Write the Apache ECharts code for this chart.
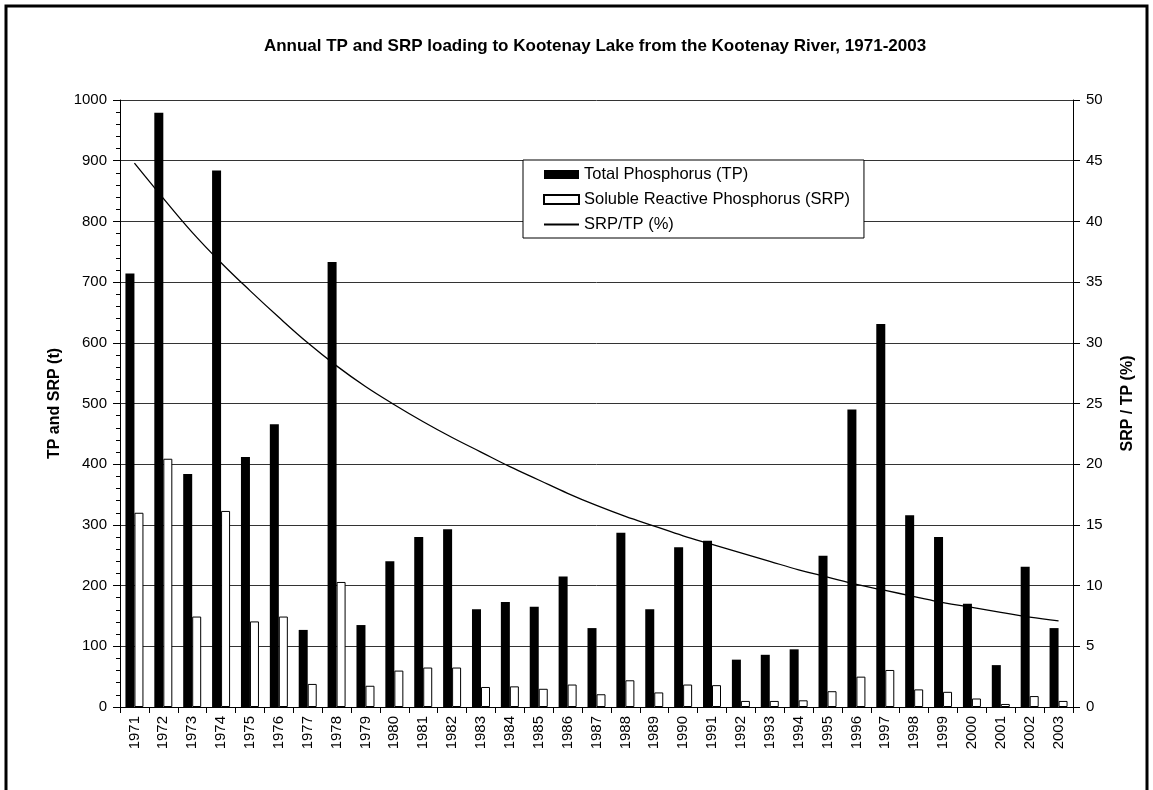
<!DOCTYPE html>
<html>
<head>
<meta charset="utf-8">
<style>
  html, body { margin: 0; padding: 0; background: #fff; }
  #chart { width: 1153px; height: 790px; }
</style>
<script src="https://cdn.jsdelivr.net/npm/echarts@6/dist/echarts.min.js"></script>
</head>
<body>
<div id="chart"></div>
<script>
// values
const years = ['1971', '1972', '1973', '1974', '1975', '1976', '1977', '1978', '1979', '1980',
  '1981', '1982', '1983', '1984', '1985', '1986', '1987', '1988', '1989', '1990',
  '1991', '1992', '1993', '1994', '1995', '1996', '1997', '1998', '1999', '2000',
  '2001', '2002', '2003']
const tpLoad = [714, 979, 384, 884, 412, 466, 127, 733, 135, 240,
  280, 293, 161, 173, 165, 215, 130, 287, 161, 263,
  274, 78, 86, 95, 249, 490, 631, 316, 280, 170,
  69, 231, 130]
const srpLoad = [320, 409, 149, 323, 141, 149, 38, 206, 35, 60,
  65, 65, 33, 34, 30, 37, 21, 44, 24, 37,
  36, 10, 10, 11, 26, 50, 61, 29, 25, 14,
  5, 18, 10]
const srpTpPct = [44.8, 41.9, 39.1, 36.6, 34.3, 32.1, 30.0, 28.1, 26.4, 24.9,
  23.5, 22.2, 21.0, 19.8, 18.7, 17.6, 16.6, 15.7, 14.9, 14.1,
  13.4, 12.7, 12.0, 11.3, 10.7, 10.1, 9.6, 9.1, 8.6, 8.2,
  7.8, 7.4, 7.1]

const FONT = '"Liberation Sans", Arial, sans-serif'
const chart = echarts.init(document.getElementById('chart'))

const option = {
  animation: false,
  backgroundColor: '#fff',
  textStyle: { fontFamily: FONT, color: '#000' },
  title: {
    text: 'Annual TP and SRP loading to Kootenay Lake from the Kootenay River, 1971-2003',
    left: 590,
    textAlign: 'center',
    top: 33,
    textStyle: { fontFamily: FONT, fontSize: 17, fontWeight: 'bold', color: '#000' },
  },
  graphic: [
    {
      type: 'rect',
      shape: { x: 6, y: 6, width: 1141, height: 820 },
      style: { fill: 'none', stroke: '#000', lineWidth: 3 },
      silent: true,
    },
  ],
  legend: {
    orient: 'vertical',
    left: 523,
    top: 160,
    padding: [6, 14, 5, 20],
    itemGap: 8,
    itemWidth: 35,
    itemHeight: 9,
    backgroundColor: '#fff',
    borderColor: '#000',
    borderWidth: 1,
    textStyle: { fontFamily: FONT, fontSize: 16.5, color: '#000' },
    data: [
      { name: 'Total Phosphorus (TP)', icon: 'rect' },
      { name: 'Soluble Reactive Phosphorus (SRP)', icon: 'rect' },
      { name: 'SRP/TP (%)', itemStyle: { opacity: 0 } },
    ],
  },
  grid: { left: 120, right: 80, top: 100, bottom: 83 },
  xAxis: {
    type: 'category',
    data: years,
    boundaryGap: true,
    axisLine: { lineStyle: { color: '#000', width: 1 } },
    axisTick: { show: true, length: 6, lineStyle: { color: '#000' } },
    axisLabel: { rotate: 90, fontSize: 15, color: '#000', margin: 9, interval: 0 },
  },
  yAxis: [
    {
      type: 'value',
      min: 0,
      max: 1000,
      interval: 100,
      name: 'TP and SRP (t)',
      nameLocation: 'middle',
      nameRotate: 90,
      nameGap: 48,
      nameTextStyle: { fontFamily: FONT, fontSize: 16, fontWeight: 'bold', color: '#000' },
      axisLine: { show: true, lineStyle: { color: '#000', width: 1 } },
      axisTick: { show: true, length: 7, lineStyle: { color: '#000' } },
      minorTick: { show: true, splitNumber: 5, length: 4, lineStyle: { color: '#000' } },
      axisLabel: { fontSize: 15, color: '#000', margin: 13, formatter: (v) => String(v) },
      splitLine: { show: true, lineStyle: { color: '#333', width: 1 } },
    },
    {
      type: 'value',
      min: 0,
      max: 50,
      interval: 5,
      position: 'right',
      name: 'SRP / TP (%)',
      nameLocation: 'middle',
      nameRotate: 90,
      nameGap: 47,
      nameTextStyle: { fontFamily: FONT, fontSize: 16, fontWeight: 'bold', color: '#000' },
      axisLine: { show: true, lineStyle: { color: '#000', width: 1 } },
      axisTick: { show: true, length: 7, lineStyle: { color: '#000' } },
      axisLabel: { fontSize: 15, color: '#000', margin: 13 },
      splitLine: { show: false },
    },
  ],
  series: [
    {
      name: 'Total Phosphorus (TP)',
      type: 'bar',
      data: tpLoad,
      barWidth: 9,
      barGap: '0%',
      itemStyle: { color: '#000' },
    },
    {
      name: 'Soluble Reactive Phosphorus (SRP)',
      type: 'bar',
      data: srpLoad,
      barWidth: 9,
      barGap: '0%',
      itemStyle: { color: '#fff', borderColor: '#000', borderWidth: 1 },
    },
    {
      name: 'SRP/TP (%)',
      type: 'line',
      yAxisIndex: 1,
      data: srpTpPct,
      symbol: 'none',
      smooth: 0.4,
      lineStyle: { color: '#000', width: 1.3 },
      itemStyle: { color: '#000' },
      z: 3,
    },
  ],
}

chart.setOption(option)
</script>
</body>
</html>
